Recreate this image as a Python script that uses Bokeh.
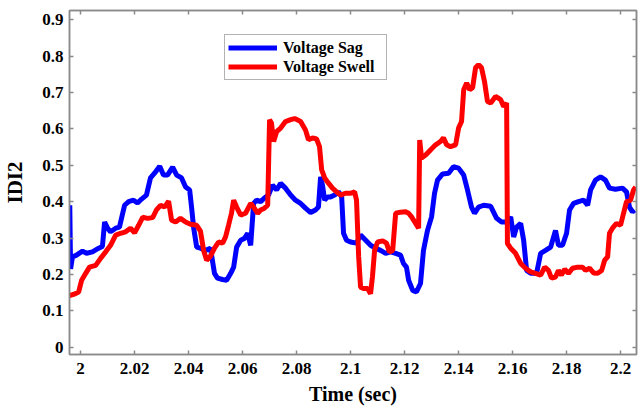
from bokeh.plotting import figure
from bokeh.models import LinearAxis, FixedTicker, Legend, LegendItem, Range1d
from bokeh.embed import file_html
from bokeh.resources import INLINE

sag_time = [1.9960, 1.9963, 1.9970, 1.9985, 2.0007, 2.0022, 2.0044, 2.0067, 2.0081, 2.0089,
            2.0100, 2.0111, 2.0130, 2.0144, 2.0163, 2.0178, 2.0196, 2.0211, 2.0226, 2.0244,
            2.0259, 2.0274, 2.0293, 2.0307, 2.0322, 2.0341, 2.0356, 2.0374, 2.0389, 2.0404,
            2.0411, 2.0419, 2.0430, 2.0444, 2.0463, 2.0481, 2.0496, 2.0507, 2.0526, 2.0541,
            2.0556, 2.0567, 2.0578, 2.0593, 2.0607, 2.0619, 2.0630, 2.0641, 2.0652, 2.0667,
            2.0681, 2.0696, 2.0711, 2.0726, 2.0741, 2.0759, 2.0778, 2.0796, 2.0815, 2.0833,
            2.0852, 2.0870, 2.0881, 2.0889, 2.0896, 2.0904, 2.0915, 2.0926, 2.0941, 2.0956,
            2.0967, 2.0974, 2.0985, 2.1000, 2.1022, 2.1037, 2.1056, 2.1074, 2.1093, 2.1111,
            2.1130, 2.1148, 2.1167, 2.1185, 2.1196, 2.1207, 2.1215, 2.1230, 2.1244, 2.1259,
            2.1270, 2.1285, 2.1300, 2.1311, 2.1322, 2.1341, 2.1363, 2.1381, 2.1400, 2.1419,
            2.1433, 2.1448, 2.1459, 2.1474, 2.1493, 2.1519, 2.1541, 2.1559, 2.1581, 2.1593,
            2.1604, 2.1615, 2.1630, 2.1641, 2.1652, 2.1667, 2.1689, 2.1704, 2.1722, 2.1741,
            2.1759, 2.1770, 2.1785, 2.1800, 2.1811, 2.1826, 2.1844, 2.1863, 2.1878, 2.1889,
            2.1907, 2.1926, 2.1944, 2.1959, 2.1981, 2.2007, 2.2022, 2.2033, 2.2044, 2.2052]
sag_idi2 = [0.390, 0.215, 0.248, 0.253, 0.264, 0.258, 0.262, 0.272, 0.277, 0.344,
            0.327, 0.317, 0.327, 0.330, 0.390, 0.400, 0.404, 0.396, 0.407, 0.418,
            0.465, 0.478, 0.497, 0.473, 0.473, 0.495, 0.473, 0.465, 0.440, 0.432,
            0.385, 0.327, 0.275, 0.272, 0.266, 0.272, 0.203, 0.190, 0.186, 0.184,
            0.203, 0.220, 0.275, 0.294, 0.299, 0.313, 0.280, 0.395, 0.404, 0.400,
            0.410, 0.418, 0.445, 0.432, 0.450, 0.437, 0.418, 0.404, 0.395, 0.382,
            0.370, 0.377, 0.385, 0.468, 0.445, 0.404, 0.413, 0.413, 0.418, 0.427,
            0.413, 0.313, 0.294, 0.289, 0.286, 0.308, 0.294, 0.280, 0.272, 0.266,
            0.258, 0.262, 0.258, 0.253, 0.230, 0.220, 0.184, 0.156, 0.152, 0.175,
            0.266, 0.321, 0.358, 0.423, 0.459, 0.476, 0.478, 0.496, 0.492, 0.473,
            0.432, 0.385, 0.368, 0.385, 0.390, 0.387, 0.354, 0.344, 0.344, 0.358,
            0.303, 0.330, 0.340, 0.294, 0.211, 0.203, 0.203, 0.258, 0.266, 0.275,
            0.321, 0.280, 0.280, 0.313, 0.377, 0.395, 0.400, 0.404, 0.390, 0.432,
            0.459, 0.468, 0.459, 0.437, 0.434, 0.437, 0.427, 0.385, 0.372, 0.377]

swell_time = [1.9959, 1.9974, 1.9993, 2.0004, 2.0019, 2.0033, 2.0056, 2.0074, 2.0093, 2.0111,
              2.0130, 2.0148, 2.0167, 2.0185, 2.0200, 2.0215, 2.0230, 2.0248, 2.0267, 2.0281,
              2.0296, 2.0311, 2.0326, 2.0337, 2.0352, 2.0370, 2.0389, 2.0407, 2.0430, 2.0444,
              2.0456, 2.0467, 2.0481, 2.0496, 2.0511, 2.0526, 2.0537, 2.0548, 2.0559, 2.0567,
              2.0578, 2.0593, 2.0611, 2.0630, 2.0641, 2.0656, 2.0667, 2.0681, 2.0693, 2.0700,
              2.0707, 2.0715, 2.0726, 2.0741, 2.0759, 2.0778, 2.0793, 2.0815, 2.0833, 2.0844,
              2.0859, 2.0874, 2.0885, 2.0893, 2.0904, 2.0919, 2.0933, 2.0948, 2.0963, 2.0981,
              2.1000, 2.1015, 2.1022, 2.1030, 2.1037, 2.1048, 2.1063, 2.1074, 2.1081, 2.1089,
              2.1100, 2.1119, 2.1133, 2.1144, 2.1156, 2.1167, 2.1185, 2.1204, 2.1215, 2.1226,
              2.1241, 2.1252, 2.1256, 2.1263, 2.1278, 2.1296, 2.1315, 2.1333, 2.1344, 2.1356,
              2.1370, 2.1389, 2.1400, 2.1411, 2.1419, 2.1430, 2.1441, 2.1452, 2.1463, 2.1474,
              2.1485, 2.1496, 2.1507, 2.1519, 2.1537, 2.1556, 2.1567, 2.1578, 2.1581, 2.1593,
              2.1611, 2.1630, 2.1648, 2.1667, 2.1685, 2.1704, 2.1719, 2.1733, 2.1744, 2.1759,
              2.1770, 2.1781, 2.1793, 2.1807, 2.1822, 2.1841, 2.1859, 2.1870, 2.1885, 2.1900,
              2.1915, 2.1930, 2.1941, 2.1952, 2.1959, 2.1970, 2.1985, 2.2000, 2.2011, 2.2022,
              2.2037, 2.2048, 2.2056]
swell_idi2 = [0.142, 0.145, 0.152, 0.184, 0.203, 0.220, 0.225, 0.244, 0.262, 0.280,
              0.308, 0.313, 0.317, 0.327, 0.314, 0.335, 0.357, 0.354, 0.356, 0.377,
              0.390, 0.385, 0.401, 0.349, 0.344, 0.354, 0.344, 0.338, 0.335, 0.319,
              0.265, 0.239, 0.250, 0.272, 0.289, 0.286, 0.303, 0.335, 0.368, 0.404,
              0.385, 0.363, 0.368, 0.395, 0.385, 0.368, 0.377, 0.382, 0.390, 0.625,
              0.616, 0.565, 0.592, 0.602, 0.620, 0.625, 0.628, 0.620, 0.597, 0.570,
              0.575, 0.572, 0.551, 0.487, 0.465, 0.450, 0.437, 0.427, 0.418, 0.423,
              0.423, 0.427, 0.404, 0.248, 0.165, 0.161, 0.161, 0.147, 0.193, 0.266,
              0.289, 0.292, 0.286, 0.262, 0.266, 0.368, 0.371, 0.372, 0.368, 0.358,
              0.340, 0.327, 0.569, 0.520, 0.528, 0.542, 0.556, 0.565, 0.575, 0.556,
              0.551, 0.556, 0.602, 0.620, 0.707, 0.726, 0.707, 0.713, 0.768, 0.776,
              0.768, 0.730, 0.675, 0.671, 0.689, 0.680, 0.661, 0.671, 0.285, 0.272,
              0.258, 0.230, 0.217, 0.207, 0.203, 0.198, 0.220, 0.211, 0.190, 0.193,
              0.211, 0.198, 0.214, 0.203, 0.217, 0.220, 0.220, 0.211, 0.217, 0.204,
              0.203, 0.211, 0.239, 0.248, 0.313, 0.327, 0.340, 0.335, 0.368, 0.400,
              0.404, 0.432, 0.440]

x_ticks = [2.00, 2.02, 2.04, 2.06, 2.08, 2.10, 2.12, 2.14, 2.16, 2.18, 2.20]
x_tick_labels = ["2", "2.02", "2.04", "2.06", "2.08", "2.1", "2.12", "2.14", "2.16", "2.18", "2.2"]
y_ticks = [0.0, 0.1, 0.2, 0.3, 0.4, 0.5, 0.6, 0.7, 0.8, 0.9]
y_tick_labels = ["0", "0.1", "0.2", "0.3", "0.4", "0.5", "0.6", "0.7", "0.8", "0.9"]

FONT = "Liberation Serif"
AX = "#8a8a8a"

p = figure(width=643, height=417, output_backend="svg", toolbar_location=None,
           x_range=Range1d(1.9959, 2.2059), y_range=Range1d(-0.02, 0.925),
           min_border_left=69, min_border_right=7, min_border_top=10, min_border_bottom=63)
p.background_fill_color = "white"
p.border_fill_color = "white"
p.outline_line_color = AX
p.outline_line_width = 1.5
p.xgrid.visible = False
p.ygrid.visible = False

r1 = p.line(sag_time, sag_idi2, line_color="#0000ff", line_width=5)
r2 = p.line(swell_time, swell_idi2, line_color="#ff0000", line_width=5)

def style(ax, ticks, labels=None, show=True):
    ax.ticker = FixedTicker(ticks=ticks)
    ax.major_tick_in = 4
    ax.major_tick_out = 0
    ax.minor_tick_line_color = None
    ax.axis_line_color = AX
    ax.axis_line_width = 1.5
    ax.major_tick_line_color = AX
    ax.major_tick_line_width = 1.5
    ax.major_label_text_font = FONT
    ax.major_label_text_font_style = "bold"
    if show:
        ax.major_label_text_color = "black"
        ax.major_label_text_font_size = "17px"
        ax.major_label_overrides = {t: l for t, l in zip(ticks, labels)}
    else:
        ax.major_label_text_color = None
        ax.major_label_text_font_size = "1px"
        ax.major_label_standoff = 0

xa = p.xaxis[0]
style(xa, x_ticks, x_tick_labels)
xa.major_label_standoff = 8
xa.axis_label = "Time (sec)"
xa.axis_label_text_font = FONT
xa.axis_label_text_font_style = "bold"
xa.axis_label_text_font_size = "20px"
xa.axis_label_text_color = "black"
xa.axis_label_standoff = 6

ya = p.yaxis[0]
style(ya, y_ticks, y_tick_labels)
ya.major_label_standoff = 6
ya.axis_label = "IDI2"
ya.axis_label_text_font = FONT
ya.axis_label_text_font_style = "bold"
ya.axis_label_text_font_size = "21px"
ya.axis_label_text_color = "black"
ya.axis_label_standoff = 12

top = LinearAxis()
style(top, x_ticks, show=False)
p.add_layout(top, "above")
right = LinearAxis()
style(right, y_ticks, show=False)
p.add_layout(right, "right")

legend = Legend(items=[LegendItem(label="Voltage Sag", renderers=[r1]),
                       LegendItem(label="Voltage Swell", renderers=[r2])],
                location=(155, 274))
legend.label_text_font = FONT
legend.label_text_font_style = "bold"
legend.label_text_font_size = "16px"
legend.label_text_color = "black"
legend.glyph_width = 49
legend.glyph_height = 19
legend.label_height = 19
legend.label_width = 100
legend.label_standoff = 6
legend.padding = 3
legend.spacing = 0
legend.margin = 0
legend.border_line_color = "#666666"
legend.border_line_width = 1.5
legend.background_fill_alpha = 1
p.add_layout(legend, "center")

open("out.html", "w").write(file_html(p, INLINE))
